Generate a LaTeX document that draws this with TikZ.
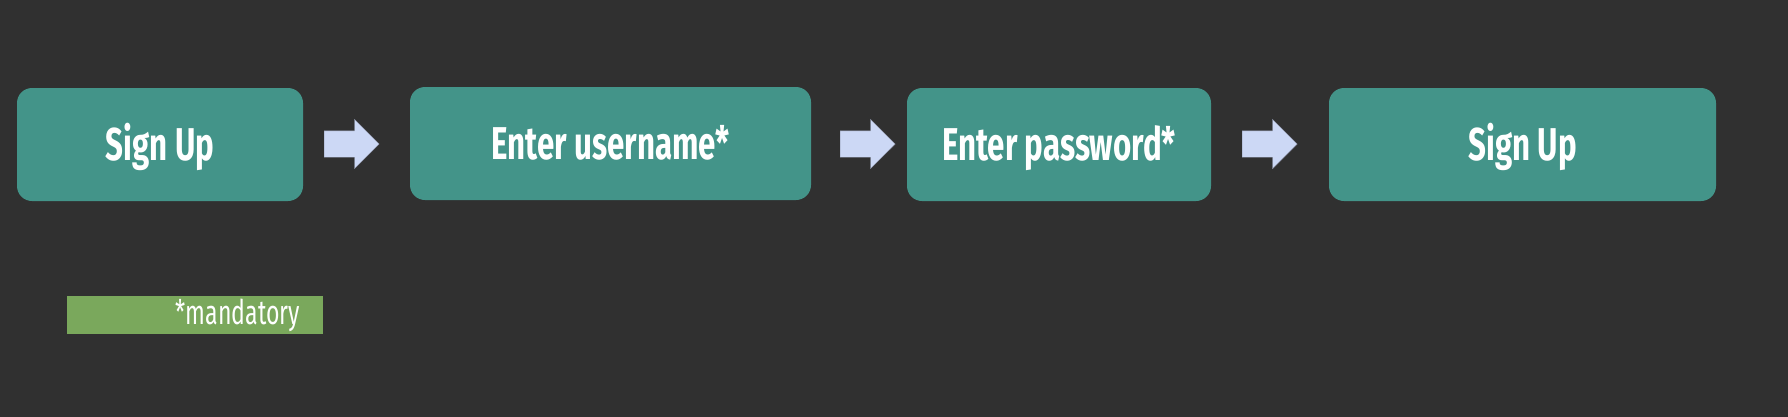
\documentclass[tikz,border=0pt]{standalone}
\usepackage{fontspec}
\setmainfont{Fira Sans}[FakeStretch=0.68]
\usepackage{xcolor}
\definecolor{Board-bg}{RGB}{48, 48, 48}
\definecolor{Board-teal}{RGB}{67, 148, 137}
\definecolor{Board-arrow}{RGB}{204, 216, 245}
\definecolor{Board-arrowedge}{RGB}{150, 158, 180}
\definecolor{Board-green}{RGB}{122, 168, 92}
\usetikzlibrary{shapes,shapes.arrows,positioning,calc}

\begin{document}
\begin{tikzpicture} [ % styles first
    x=1pt, y=-1pt,
    step-box/.style = {shape = rectangle, rounded corners = 15pt, minimum height = 113pt, text height = 31pt, text depth = 0pt, align = center, fill = Board-teal, text = white, font = \fontsize{46}{50}\selectfont\bfseries},
    flow-arrow/.style = {single arrow, anchor = tail, fill = Board-arrow, draw = Board-arrowedge, line width = 0.4pt, inner xsep = 0pt, inner ysep = 13pt, minimum height = 55pt, single arrow head extend = 11.5pt, single arrow head indent = 0pt},
    legend/.style = {shape = rectangle, minimum height = 38pt, text width = 210pt, inner xsep = 23pt, inner ysep = 1pt, align = right, fill = Board-green, text = white, font = \fontsize{34}{36}\selectfont}
]

% background
\useasboundingbox (0,0) rectangle (1788,416);
\fill [Board-bg] (-5,-5) rectangle (1793,421);

% boxes
\node [step-box, minimum width = 286pt] (signup) at (160,144.5){Sign Up};
\node [step-box, minimum width = 401pt] (user) at (610.5,143.5){Enter username*};
\node [step-box, minimum width = 304pt] (pass) at (1059,144.5){Enter password*};
\node [step-box, minimum width = 387pt] (done) at (1522.5,144.5){Sign Up};

% arrows between boxes
\node [flow-arrow] (a1) at (324,144){};
\node [flow-arrow] (a2) at (840,144){};
\node [flow-arrow] (a3) at (1242,144){};

% legend
\node [legend] (mand) at (195,315){*mandatory};

\end{tikzpicture}
\end{document}
